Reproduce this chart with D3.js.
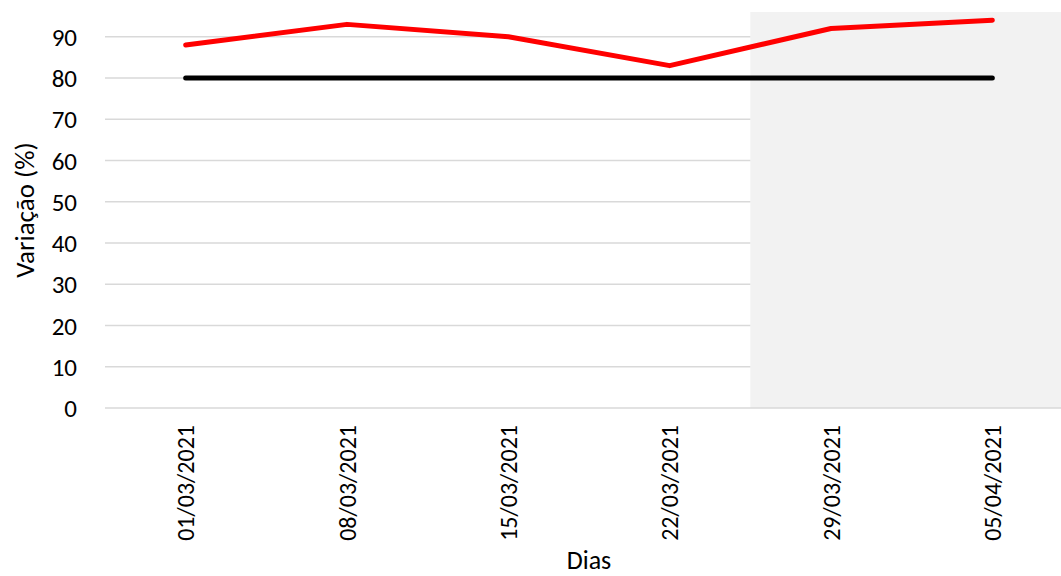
<!DOCTYPE html>
<html>
<head>
<meta charset="utf-8">
<script src="https://cdn.jsdelivr.net/npm/d3@7"></script>
<style>
  body { margin: 0; background: #fff; }
  text { font-family: Carlito, Calibri, Lato, sans-serif; fill: #000; }
</style>
</head>
<body>
<script>
// chart data
var dias = ["01/03/2021", "08/03/2021", "15/03/2021", "22/03/2021", "29/03/2021", "05/04/2021"];
var variacao = [88, 93, 90, 83, 92, 94];
var meta = [80, 80, 80, 80, 80, 80];
var yTicks = [0, 10, 20, 30, 40, 50, 60, 70, 80, 90];
var destaque = ["29/03/2021", "05/04/2021"]; // shaded period

var width = 1061, height = 576;

var svg = d3.select("body").append("svg")
  .attr("width", width)
  .attr("height", height);

var x = d3.scaleBand().domain(dias).range([105, 1073]);
var y = d3.scaleLinear().domain([0, 96]).range([408, 12]);

// shaded area
svg.append("rect")
  .attr("x", x(destaque[0]))
  .attr("y", y(96))
  .attr("width", x(destaque[destaque.length - 1]) + x.bandwidth() - x(destaque[0]))
  .attr("height", y(0) - y(96))
  .attr("fill", "#f2f2f2");

// gridlines (hidden under the shaded area)
svg.append("g").selectAll("line")
  .data(yTicks.filter(function(d) { return d > 0; }))
  .enter().append("line")
  .attr("x1", x.range()[0])
  .attr("x2", x(destaque[0]))
  .attr("y1", function(d) { return y(d); })
  .attr("y2", function(d) { return y(d); })
  .attr("stroke", "#d9d9d9")
  .attr("stroke-width", 1.3);

// baseline
svg.append("line")
  .attr("x1", x.range()[0])
  .attr("x2", x.range()[1])
  .attr("y1", y(0))
  .attr("y2", y(0))
  .attr("stroke", "#d9d9d9")
  .attr("stroke-width", 1.3);

// y axis labels
svg.append("g").selectAll("text")
  .data(yTicks)
  .enter().append("text")
  .attr("x", 77)
  .attr("y", function(d) { return y(d); })
  .attr("dy", "0.36em")
  .attr("text-anchor", "end")
  .style("font-size", "25px")
  .text(function(d) { return d; });

// x axis labels
svg.append("g").selectAll("text")
  .data(dias)
  .enter().append("text")
  .attr("transform", function(d) {
    return "translate(" + (x(d) + x.bandwidth() / 2) + ",425) rotate(-90)";
  })
  .attr("dy", "0.36em")
  .attr("text-anchor", "end")
  .style("font-size", "24px")
  .text(function(d) { return d; });

// axis titles
svg.append("text")
  .attr("x", (x.range()[0] + x.range()[1]) / 2)
  .attr("y", 569)
  .attr("text-anchor", "middle")
  .style("font-size", "26px")
  .text("Dias");

svg.append("text")
  .attr("transform", "translate(34," + (y(0) + y(96)) / 2 + ") rotate(-90)")
  .attr("text-anchor", "middle")
  .style("font-size", "27px")
  .text("Variação (%)");

var line = d3.line()
  .x(function(d, i) { return x(dias[i]) + x.bandwidth() / 2; })
  .y(function(d) { return y(d); });

svg.append("path")
  .datum(meta)
  .attr("d", line)
  .attr("fill", "none")
  .attr("stroke", "#000")
  .attr("stroke-width", 5)
  .attr("stroke-linecap", "round");

svg.append("path")
  .datum(variacao)
  .attr("d", line)
  .attr("fill", "none")
  .attr("stroke", "#ff0000")
  .attr("stroke-width", 5)
  .attr("stroke-linecap", "round")
  .attr("stroke-linejoin", "round");
</script>
</body>
</html>
